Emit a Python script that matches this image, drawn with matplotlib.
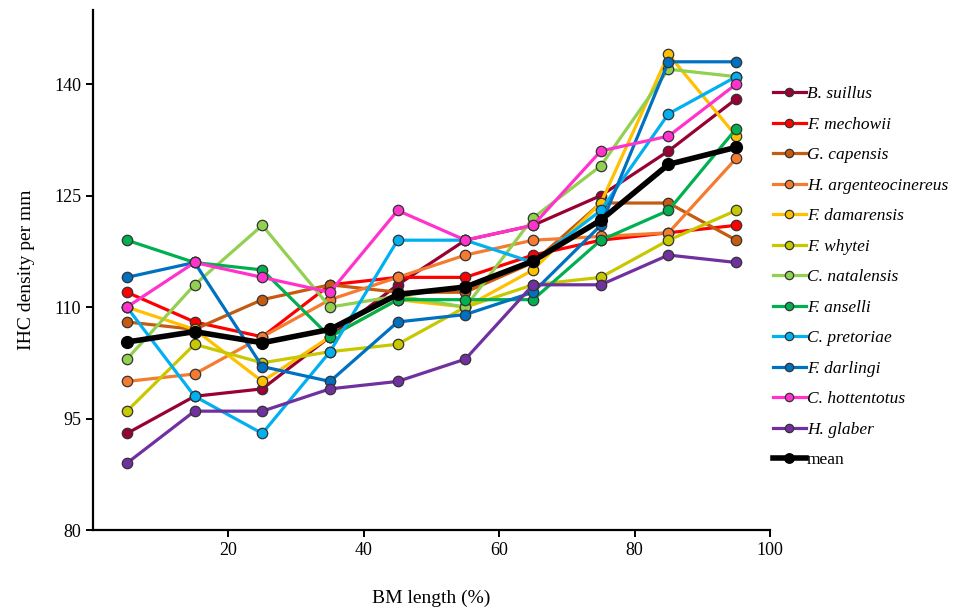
import matplotlib
matplotlib.use("Agg")
import matplotlib.pyplot as plt

plt.rcParams["font.family"] = ["Liberation Serif", "DejaVu Serif"]

bm_length = [5, 15, 25, 35, 45, 55, 65, 75, 85, 95]

species = [
    "B. suillus", "F. mechowii", "G. capensis", "H. argenteocinereus",
    "F. damarensis", "F. whytei", "C. natalensis", "F. anselli",
    "C. pretoriae", "F. darlingi", "C. hottentotus", "H. glaber",
]

b_suillus = [93, 98, 99, 106, 113, 119, 121, 125, 131, 138]
f_mechowii = [112, 108, 106, 113, 114, 114, 117, 119, 120, 121]
g_capensis = [108, 107, 111, 113, 112, 112, 116, 124, 124, 119]
h_argenteocinereus = [100, 101, 106, 111, 114, 117, 119, 119.5, 120, 130]
f_damarensis = [110, 107, 100, 106, 111, 110, 115, 124, 144, 133]
f_whytei = [96, 105, 102.5, 104, 105, 110, 113, 114, 119, 123]
c_natalensis = [103, 113, 121, 110, 111.5, 110, 122, 129, 142, 141]
f_anselli = [119, 116, 115, 106, 111, 111, 111, 119, 123, 134]
c_pretoriae = [110, 98, 93, 104, 119, 119, 116, 123, 136, 141]
f_darlingi = [114, 116, 102, 100, 108, 109, 112, 121, 143, 143]
c_hottentotus = [110, 116, 114, 112, 123, 119, 121, 131, 133, 140]
h_glaber = [89, 96, 96, 99, 100, 103, 113, 113, 117, 116]
mean = [105.3, 106.7, 105.2, 107.0, 111.7, 112.7, 116.2, 121.7, 129.2, 131.5]

series = [b_suillus, f_mechowii, g_capensis, h_argenteocinereus, f_damarensis,
          f_whytei, c_natalensis, f_anselli, c_pretoriae, f_darlingi,
          c_hottentotus, h_glaber]
colors = ["#990033", "#FF0000", "#C55A11", "#F47B30", "#FFC000", "#C8C800",
          "#92D050", "#00B050", "#00B0F0", "#0070C0", "#FF33CC", "#7030A0"]

fig = plt.figure(figsize=(9.61, 6.10), dpi=100)
ax = fig.add_axes([0.0968, 0.131, 0.7045, 0.853])

for name, vals, c in zip(species, series, colors):
    ax.plot(bm_length, vals, color=c, lw=2.3, marker="o", ms=7.5,
            mfc=c, mec="#333333", mew=0.9, label=name)
ax.plot(bm_length, mean, color="black", lw=4.0, marker="o", ms=8.5,
        mfc="black", mec="black", label="mean")

ax.set_xlim(0, 100)
ax.set_ylim(80, 150)
ax.set_xticks([20, 40, 60, 80, 100])
ax.set_yticks([80, 95, 110, 125, 140])
for s in ("top", "right"):
    ax.spines[s].set_visible(False)
for s in ("left", "bottom"):
    ax.spines[s].set_linewidth(1.6)
ax.tick_params(direction="out", length=5, width=1.4, labelsize=13)
ax.set_xlabel("BM length (%)", fontsize=14, labelpad=22)
ax.set_ylabel("IHC density per mm", fontsize=14, labelpad=14)

leg = ax.legend(loc="upper left", bbox_to_anchor=(0.797, 0.87),
                bbox_transform=fig.transFigure, frameon=False, fontsize=12.5,
                handlelength=1.9, handletextpad=0.05, labelspacing=0.825,
                markerscale=0.8, borderaxespad=0)
for t in leg.get_texts()[:-1]:
    t.set_style("italic")

fig.savefig("out.png", dpi=100)
